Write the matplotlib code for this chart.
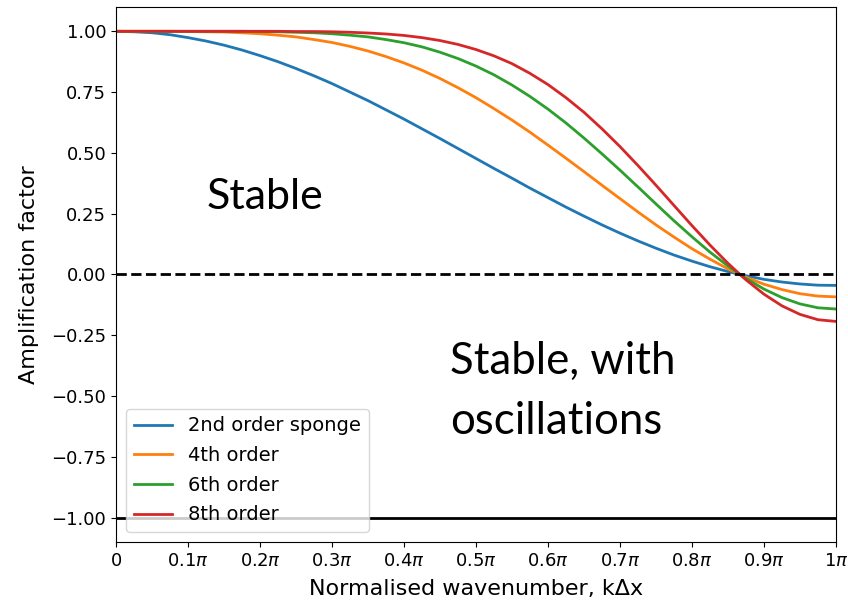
import numpy as np
import matplotlib.pyplot as plt

# Wavenumber samples, in units of pi
k = [0.0, 0.025, 0.05, 0.075, 0.1, 0.125, 0.15, 0.175, 0.2, 0.225, 0.25,
     0.275, 0.3, 0.325, 0.35, 0.375, 0.4, 0.425, 0.45, 0.475, 0.5,
     0.525, 0.55, 0.575, 0.6, 0.625, 0.65, 0.675, 0.7, 0.725, 0.75,
     0.775, 0.8, 0.825, 0.85, 0.8667, 0.875, 0.9, 0.925, 0.95, 0.975, 1.0]

amp_2nd = [1.0, 0.998, 0.994, 0.986, 0.974, 0.960, 0.943, 0.923, 0.900, 0.875, 0.847,
           0.817, 0.785, 0.750, 0.715, 0.677, 0.639, 0.599, 0.559, 0.518, 0.477,
           0.436, 0.396, 0.355, 0.316, 0.277, 0.240, 0.204, 0.170, 0.138, 0.108,
           0.080, 0.055, 0.032, 0.012, 0.0, -0.005, -0.020, -0.031, -0.039, -0.044, -0.045]
amp_4th = [1.0, 1.0, 1.0, 1.0, 0.999, 0.998, 0.997, 0.994, 0.990, 0.984, 0.977,
           0.966, 0.954, 0.938, 0.919, 0.896, 0.870, 0.840, 0.806, 0.768, 0.727,
           0.682, 0.635, 0.585, 0.532, 0.478, 0.423, 0.367, 0.312, 0.257, 0.204,
           0.154, 0.106, 0.063, 0.023, 0.0, -0.011, -0.040, -0.062, -0.079, -0.089, -0.092]
amp_6th = [1.0, 1.0, 1.0, 1.0, 1.0, 1.0, 1.0, 1.0, 0.999, 0.998, 0.996,
           0.994, 0.990, 0.984, 0.977, 0.966, 0.953, 0.936, 0.914, 0.888, 0.857,
           0.821, 0.779, 0.732, 0.680, 0.623, 0.561, 0.496, 0.429, 0.360, 0.290,
           0.221, 0.155, 0.092, 0.035, 0.0, -0.016, -0.060, -0.095, -0.121, -0.137, -0.142]
amp_8th = [1.0, 1.0, 1.0, 1.0, 1.0, 1.0, 1.0, 1.0, 1.0, 1.0, 0.999,
           0.999, 0.998, 0.996, 0.993, 0.989, 0.983, 0.974, 0.962, 0.946, 0.925,
           0.899, 0.867, 0.827, 0.781, 0.727, 0.667, 0.599, 0.526, 0.448, 0.367,
           0.284, 0.201, 0.121, 0.046, 0.0, -0.022, -0.081, -0.129, -0.164, -0.186, -0.193]

labels = ["2nd order sponge", "4th order", "6th order", "8th order"]
tick_vals = [0, 0.1, 0.2, 0.3, 0.4, 0.5, 0.6, 0.7, 0.8, 0.9, 1.0]
tick_labels = ["0"] + [r"%.1f$\pi$" % t for t in tick_vals[1:-1]] + [r"1$\pi$"]

plt.rcParams["font.size"] = 13

fig = plt.figure(figsize=(8.48, 6.02), dpi=100)
ax = fig.add_axes([0.1368, 0.0997, 0.849, 0.8887])

x = np.array(k) * np.pi
for y, lab in zip([amp_2nd, amp_4th, amp_6th, amp_8th], labels):
    ax.plot(x, y, lw=2, label=lab)

ax.axhline(0, color="k", ls="--", lw=2)
ax.axhline(-1, color="k", lw=2)

ax.set_xlim(0, np.pi)
ax.set_ylim(-1.1, 1.1)
ax.set_xticks(np.array(tick_vals) * np.pi)
ax.set_xticklabels(tick_labels)
ax.set_yticks(np.arange(-1.0, 1.01, 0.25))
ax.set_xlabel("Normalised wavenumber, k\u0394x", fontsize=16, labelpad=7)
ax.set_ylabel("Amplification factor", fontsize=16, labelpad=9)
ax.legend(loc="lower left", fontsize=14, labelspacing=0.55)

ax.text(0.126 * np.pi, 0.27, "Stable", family="Lato", fontsize=31, va="baseline")
ax.text(0.464 * np.pi, -0.275, "Stable, with\noscillations", family="Lato",
        fontsize=31.5, va="top", linespacing=1.58)

fig.savefig("out.png")
